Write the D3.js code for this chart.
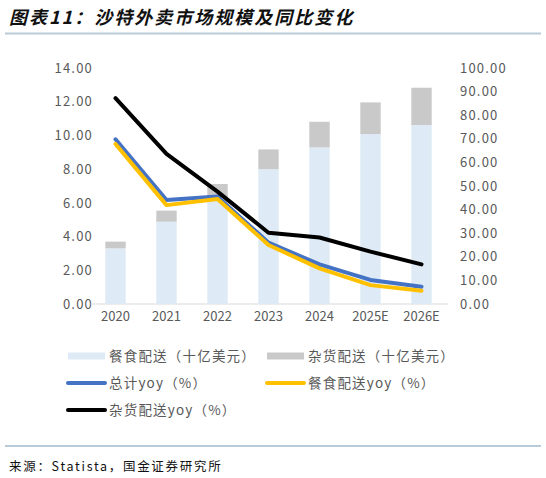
<!DOCTYPE html>
<html>
<head>
<meta charset="utf-8">
<script src="https://cdn.jsdelivr.net/npm/d3@7"></script>
<style>
  html, body { margin: 0; padding: 0; background: #fff; }
  svg text { font-family: "Noto Sans CJK SC", "Noto Sans", sans-serif; }
</style>
</head>
<body>
<div id="vis"></div>
<script>
// data
const years = ["2020", "2021", "2022", "2023", "2024", "2025E", "2026E"];
const foodDelivery = [3.30, 4.88, 6.30, 8.00, 9.29, 10.08, 10.62];
const groceryDelivery = [0.40, 0.66, 0.82, 1.17, 1.52, 1.88, 2.21];
const totalYoy = [69.8, 44.1, 45.5, 26.0, 16.8, 10.2, 7.3];
const foodYoy = [67.8, 41.9, 44.5, 25.0, 15.1, 8.0, 5.6];
const groceryYoy = [87.2, 63.6, 47.6, 30.2, 28.2, 22.2, 16.8];
const leftTicks = [0, 2, 4, 6, 8, 10, 12, 14];
const rightTicks = [0, 10, 20, 30, 40, 50, 60, 70, 80, 90, 100];

const W = 546, H = 478;
const svg = d3.select("#vis").append("svg")
  .attr("width", W).attr("height", H);

// title + rules
svg.append("text")
  .attr("x", 9).attr("y", 24)
  .attr("font-size", 18).attr("font-weight", "bold").attr("font-style", "italic")
  .attr("letter-spacing", 2)
  .attr("fill", "#111")
  .text("图表11：沙特外卖市场规模及同比变化");
svg.append("line").attr("x1", 5).attr("x2", 541).attr("y1", 33.5).attr("y2", 33.5)
  .attr("stroke", "#b8cbd8").attr("stroke-width", 2);
svg.append("line").attr("x1", 5).attr("x2", 541).attr("y1", 446).attr("y2", 446)
  .attr("stroke", "#b8cbd8").attr("stroke-width", 2);
svg.append("text")
  .attr("x", 9).attr("y", 471)
  .attr("font-size", 12.5).attr("fill", "#111").attr("letter-spacing", 1.7)
  .text("来源：Statista，国金证券研究所");

// scales
const x = d3.scaleBand().domain(years).range([90, 447]).paddingInner(0.6).paddingOuter(0.3);
const yL = d3.scaleLinear().domain([0, 14]).range([304, 68]);
const yR = d3.scaleLinear().domain([0, 100]).range([304, 68]);

// axes (labels only)
const axisFmt = d3.format(".2f");
const gl = svg.append("g").attr("transform", "translate(97,0)")
  .call(d3.axisLeft(yL).tickValues(leftTicks).tickFormat(axisFmt).tickSize(0).tickPadding(4));
const gr = svg.append("g").attr("transform", "translate(456,0)")
  .call(d3.axisRight(yR).tickValues(rightTicks).tickFormat(axisFmt).tickSize(0).tickPadding(4));
[gl, gr].forEach(g => {
  g.select(".domain").remove();
  g.selectAll("text").attr("font-size", 13).attr("fill", "#595959")
    .attr("font-family", "\"Noto Sans CJK SC\", sans-serif").attr("letter-spacing", 1.2);
});

const gx = svg.append("g").attr("transform", "translate(0,303.5)")
  .call(d3.axisBottom(x).tickSize(0).tickPadding(8));
gx.select(".domain").attr("stroke", "#d9d9d9").attr("stroke-width", 1);
gx.selectAll("text").attr("font-size", 13).attr("fill", "#595959");

// stacked bars
const bars = svg.append("g");
bars.selectAll(".food")
  .data(years).join("rect")
  .attr("x", d => x(d)).attr("width", x.bandwidth())
  .attr("y", (d, i) => yL(foodDelivery[i]))
  .attr("height", (d, i) => yL(0) - yL(foodDelivery[i]))
  .attr("fill", "#deeaf6");
bars.selectAll(".grocery")
  .data(years).join("rect")
  .attr("x", d => x(d)).attr("width", x.bandwidth())
  .attr("y", (d, i) => yL(foodDelivery[i] + groceryDelivery[i]))
  .attr("height", (d, i) => yL(foodDelivery[i]) - yL(foodDelivery[i] + groceryDelivery[i]))
  .attr("fill", "#c9c9c9");

// yoy lines
const cx = d => x(d) + x.bandwidth() / 2;
const lineSeries = [
  { vals: totalYoy, color: "#4472c4" },
  { vals: foodYoy, color: "#ffc000" },
  { vals: groceryYoy, color: "#000000" }
];
const line = d3.line().x(d => cx(d[0])).y(d => yR(d[1]));
lineSeries.forEach(s => {
  svg.append("path")
    .datum(years.map((yr, i) => [yr, s.vals[i]]))
    .attr("d", line)
    .attr("fill", "none").attr("stroke", s.color)
    .attr("stroke-width", 4).attr("stroke-linecap", "round").attr("stroke-linejoin", "round");
});

// legend
const legend = [
  { label: "餐食配送（十亿美元）", type: "rect", color: "#deeaf6", x: 68, y: 356 },
  { label: "杂货配送（十亿美元）", type: "rect", color: "#c9c9c9", x: 267, y: 356 },
  { label: "总计yoy（%）", type: "line", color: "#4472c4", x: 68, y: 383 },
  { label: "餐食配送yoy（%）", type: "line", color: "#ffc000", x: 267, y: 383 },
  { label: "杂货配送yoy（%）", type: "line", color: "#000000", x: 68, y: 410 }
];
const lg = svg.append("g").selectAll("g").data(legend).join("g")
  .attr("transform", d => `translate(${d.x},${d.y})`);
lg.filter(d => d.type === "rect").append("rect")
  .attr("x", 0).attr("y", -3.5).attr("width", 37).attr("height", 7).attr("fill", d => d.color);
lg.filter(d => d.type === "line").append("line")
  .attr("x1", 0).attr("x2", 37).attr("y1", 0).attr("y2", 0)
  .attr("stroke", d => d.color).attr("stroke-width", 4).attr("stroke-linecap", "round");
lg.append("text")
  .attr("x", 41).attr("y", 0).attr("dy", "0.35em")
  .attr("font-size", 13.5).attr("fill", "#595959").attr("letter-spacing", 1.2)
  .text(d => d.label);
</script>
</body>
</html>
